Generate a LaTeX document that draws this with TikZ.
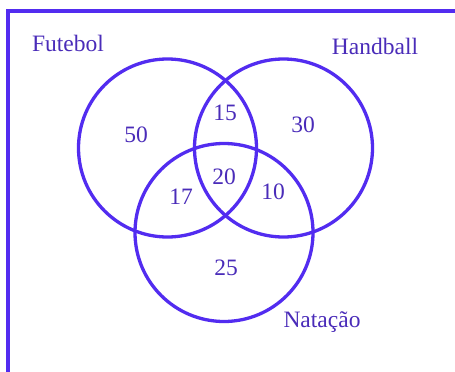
\documentclass[tikz,border=0pt]{standalone}
\usepackage{fontspec}
\setmainfont{Liberation Serif}
\definecolor{vennline}{RGB}{82,44,240}
\definecolor{venntext}{RGB}{74,44,185}
\begin{document}
\begin{tikzpicture}[x=1pt,y=-1pt,
  ring/.style={draw=vennline,line width=3.3pt},
  frameline/.style={draw=vennline,line width=3.6pt},
  lbl/.style={text=venntext,font=\fontsize{23.5}{26}\selectfont,inner sep=0pt}]
\useasboundingbox (0,0) rectangle (455,372);
\fill[white] (0,0) rectangle (455,372);
\coordinate (fl) at (8,372);
\coordinate (ft) at (8,11);
\coordinate (fr) at (455,11);
\draw[frameline] (fl) -- (ft) -- (fr);
\node[ring,circle,minimum size=178pt,inner sep=0pt] (fut) at (167.5,148) {};
\node[ring,circle,minimum size=178pt,inner sep=0pt] (hand) at (283.5,148) {};
\node[ring,circle,minimum size=178pt,inner sep=0pt] (nat) at (224,232.5) {};
\node[lbl] (lfut) at (68,43) {Futebol};
\node[lbl] (lhand) at (375,46) {Handball};
\node[lbl] (lnat) at (322,322) {Natação};
\node[lbl] (n50) at (136,135) {50};
\node[lbl] (n15) at (225,113) {15};
\node[lbl] (n30) at (303,125) {30};
\node[lbl] (n20) at (224,177) {20};
\node[lbl] (n17) at (181,197) {17};
\node[lbl] (n10) at (273,192) {10};
\node[lbl] (n25) at (226,268) {25};
\end{tikzpicture}
\end{document}
